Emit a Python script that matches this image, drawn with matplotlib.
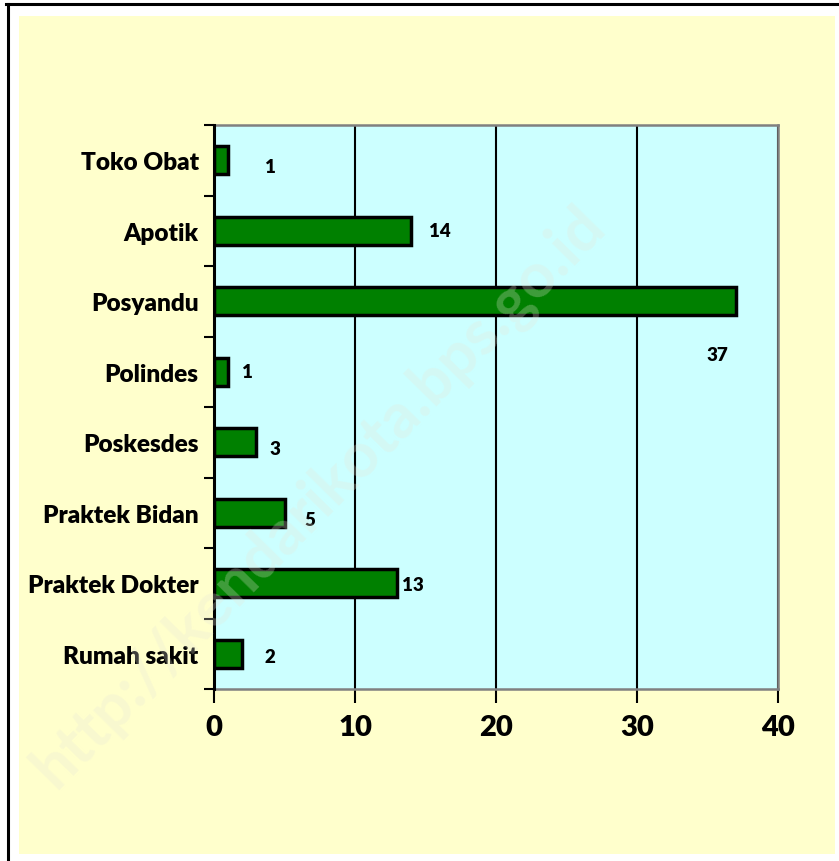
import matplotlib.pyplot as plt
from matplotlib.patches import Rectangle
from matplotlib.lines import Line2D

categories = ['Toko Obat', 'Apotik', 'Posyandu', 'Polindes', 'Poskesdes',
              'Praktek Bidan', 'Praktek Dokter', 'Rumah sakit']
values = [1, 14, 37, 1, 3, 5, 13, 2]
xticks = [0, 10, 20, 30, 40]

# label offsets in pixels from the bar end (right) and bar centre (down), as placed in the original
label_dx = [42, 28, -18, 19, 19, 25, 16, 28]
label_dy = [6, 0, 53, 0, 6, 7, 1, 3]

plt.rcParams['font.family'] = ['Lato', 'DejaVu Sans']
plt.rcParams['font.weight'] = 'heavy'

fig = plt.figure(figsize=(8.39, 8.62), dpi=100)
fig.patch.set_facecolor('white')

# yellow chart area and frame
fig.patches.append(Rectangle((19 / 839, 7 / 862), 816 / 839, 838 / 862,
                             transform=fig.transFigure, facecolor='#FFFFCC',
                             edgecolor='none', zorder=-5))
fig.lines.append(Line2D([7.5 / 839, 7.5 / 839], [0, 857 / 862], transform=fig.transFigure,
                        color='black', lw=2.2, zorder=-4))
fig.lines.append(Line2D([6 / 839, 1], [857 / 862, 857 / 862], transform=fig.transFigure,
                        color='black', lw=2.2, zorder=-4))

ax = fig.add_axes([214 / 839, 172 / 862, 564 / 839, 564 / 862])
ax.set_facecolor('#CCFFFF')

ypos = list(range(len(categories)))
ax.barh(ypos, values, height=0.40, color='#008000', edgecolor='black', linewidth=2.5, zorder=3)

for i, v in enumerate(values):
    ax.annotate(str(v), (v, i), xytext=(label_dx[i], -label_dy[i]), textcoords='offset pixels',
                ha='center', va='center', fontsize=13.5, fontweight='heavy', zorder=4)

ax.set_xlim(0, 40)
ax.set_ylim(len(categories) - 0.5, -0.5)
ax.set_xticks(xticks)
ax.set_xticklabels([str(t) for t in xticks], fontsize=21, fontweight='heavy')
ax.xaxis.grid(True, color='black', linewidth=1.5, zorder=1)
ax.set_axisbelow(True)

ax.set_yticks([i - 0.5 for i in range(len(categories) + 1)])
ax.set_yticklabels([])
ax.set_yticks(ypos, minor=True)
ax.set_yticklabels(categories, minor=True, fontsize=17.6, fontweight='heavy')
ax.tick_params(axis='y', which='major', length=7, width=1.5, direction='out')
ax.tick_params(axis='y', which='minor', length=0, pad=11)
ax.tick_params(axis='x', length=10, width=1.5, direction='out', pad=8)

for side in ['top', 'right', 'bottom']:
    ax.spines[side].set_color('#808080')
    ax.spines[side].set_linewidth(1.8)
ax.spines['left'].set_color('black')
ax.spines['left'].set_linewidth(2.2)
ax.spines['left'].set_zorder(5)

# faint watermark
fig.text(0.38, 0.423, 'http://kendarikota.bps.go.id', rotation=45.5, ha='center', va='center',
         fontsize=45, fontweight='bold', color='#E8E8D8', alpha=0.28, zorder=10)

fig.savefig('out.png', dpi=100)
